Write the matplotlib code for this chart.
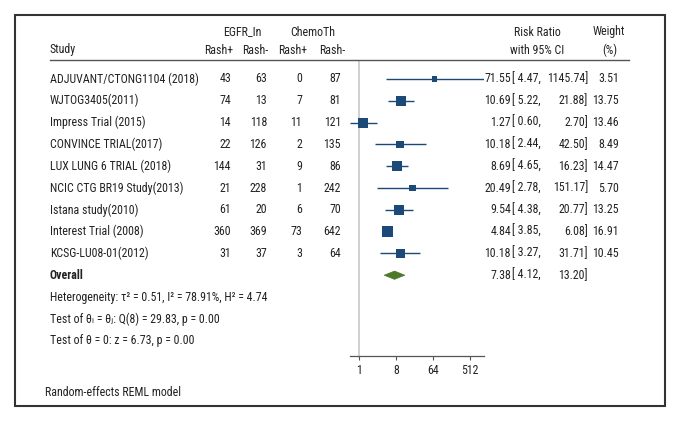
import matplotlib
matplotlib.use("Agg")
import matplotlib.pyplot as plt
import matplotlib.transforms as mtransforms
from matplotlib.patches import Rectangle, Polygon
from matplotlib.lines import Line2D
import numpy as np

studies = ["ADJUVANT/CTONG1104 (2018)", "WJTOG3405(2011)", "Impress Trial (2015)",
           "CONVINCE TRIAL(2017)", "LUX LUNG 6 TRIAL (2018)", "NCIC CTG BR19 Study(2013)",
           "Istana study(2010)", "Interest Trial (2008)", "KCSG-LU08-01(2012)"]
egfr_pos = [43, 74, 14, 22, 144, 21, 61, 360, 31]
egfr_neg = [63, 13, 118, 126, 31, 228, 20, 369, 37]
chemo_pos = [0, 7, 11, 2, 9, 1, 6, 73, 3]
chemo_neg = [87, 81, 121, 135, 86, 242, 70, 642, 64]
rr = [71.55, 10.69, 1.27, 10.18, 8.69, 20.49, 9.54, 4.84, 10.18]
lo = [4.47, 5.22, 0.60, 2.44, 4.65, 2.78, 4.38, 3.85, 3.27]
hi = [1145.74, 21.88, 2.70, 42.50, 16.23, 151.17, 20.77, 6.08, 31.71]
weight = [3.51, 13.75, 13.46, 8.49, 14.47, 5.70, 13.25, 16.91, 10.45]
overall = (7.38, 4.12, 13.20)
xticks = [1, 8, 64, 512]
het_lines = ["Heterogeneity: \u03c4\u00b2 = 0.51, I\u00b2 = 78.91%, H\u00b2 = 4.74",
             "Test of \u03b8\u1d62 = \u03b8\u2c7c: Q(8) = 29.83, p = 0.00",
             "Test of \u03b8 = 0: z = 6.73, p = 0.00"]

W, H = 681, 422
DPI = 100
FONT = ['Roboto Condensed', 'DejaVu Sans']
plt.rcParams['font.family'] = FONT
FS = 8.6
TXT = '#222222'
NAVY = '#1b4a78'
GREEN = '#4d7a2a'

fig = plt.figure(figsize=(W / DPI, H / DPI), dpi=DPI)
fig.patch.set_facecolor('white')

row0_px, row_step = 79.0, 21.8
def py2row(p):
    return (p - row0_px) / row_step
ax_top, ax_bot = 60, 356
ax = fig.add_axes([350 / W, 1 - ax_bot / H, 134 / W, (ax_bot - ax_top) / H])
ax.set_xscale('log', base=2)
ax.set_xlim(min(lo), max(hi))
ax.set_ylim(py2row(ax_bot), py2row(ax_top))
ax.patch.set_alpha(0)
for s in ['top', 'right', 'left']:
    ax.spines[s].set_visible(False)
ax.spines['bottom'].set_color('#555555')
ax.spines['bottom'].set_linewidth(0.9)
ax.set_yticks([])
ax.set_xticks(xticks)
ax.set_xticklabels([str(t) for t in xticks])
ax.xaxis.set_minor_locator(matplotlib.ticker.NullLocator())
ax.tick_params(axis='x', direction='out', length=3, width=0.8, color='#555555',
               labelsize=FS, labelcolor=TXT, pad=3)
ax.axvline(1, color='#c8c8c8', lw=1.2, zorder=0)

rows = np.arange(len(studies))
for i in rows:
    ax.plot([lo[i], hi[i]], [i, i], color=NAVY, lw=1.0, solid_capstyle='butt', zorder=2)
side_px = 11.0 * np.sqrt(np.array(weight) / max(weight))
side_pt = side_px * 72 / DPI
ax.scatter(rr, rows, s=side_pt ** 2, marker='s', color=NAVY, zorder=3, linewidths=0)

orow = len(studies)
dh = 0.19
ax.add_patch(Polygon([[overall[1], orow], [overall[0], orow - dh], [overall[2], orow],
                      [overall[0], orow + dh]], closed=True, facecolor=GREEN,
                     edgecolor=GREEN, lw=0.5, zorder=3))

tr = mtransforms.blended_transform_factory(fig.transFigure, ax.transData)
def T(xpx, row, s, ha='left', **kw):
    fig.text(xpx / W, row, s, transform=tr, ha=ha, va='center', fontsize=FS, color=TXT, **kw)

hy1, hy2 = py2row(32), py2row(50)
T(50, hy2, "Study")
T(242, hy1, "EGFR_In", ha='center')
T(313, hy1, "ChemoTh", ha='center')
T(233, hy2, "Rash+", ha='right')
T(268, hy2, "Rash-", ha='right')
T(307, hy2, "Rash+", ha='right')
T(345, hy2, "Rash-", ha='right')
T(537, hy1, "Risk Ratio", ha='center')
T(537, hy2, "with 95% CI", ha='center')
T(609, hy1, "Weight", ha='center')
T(610, hy2, "(%)", ha='center')
fig.add_artist(Line2D([50 / W, 629 / W], [1 - 60 / H, 1 - 60 / H], transform=fig.transFigure,
                      color='#555555', lw=1.0))

for i in rows:
    T(50, i, studies[i])
    T(231, i, str(egfr_pos[i]), ha='right')
    T(267, i, str(egfr_neg[i]), ha='right')
    T(302, i, str(chemo_pos[i]), ha='right')
    T(341, i, str(chemo_neg[i]), ha='right')
    T(511, i, f"{rr[i]:.2f}", ha='right')
    T(512, i, f"[ {lo[i]:.2f},", ha='left')
    T(588, i, f"{hi[i]:.2f}]", ha='right')
    T(619, i, f"{weight[i]:.2f}", ha='right')

T(50, orow, "Overall", fontweight='bold')
T(511, orow, f"{overall[0]:.2f}", ha='right')
T(512, orow, f"[ {overall[1]:.2f},", ha='left')
T(588, orow, f"{overall[2]:.2f}]", ha='right')
for k, s in enumerate(het_lines):
    T(50, orow + 1 + k, s)
T(45, py2row(392), "Random-effects REML model")

fig.add_artist(Rectangle((15 / W, 1 - 406 / H), 650 / W, 391 / H, transform=fig.transFigure,
                         fill=False, edgecolor='#333333', lw=1.5))

fig.savefig("out.png", dpi=DPI)
